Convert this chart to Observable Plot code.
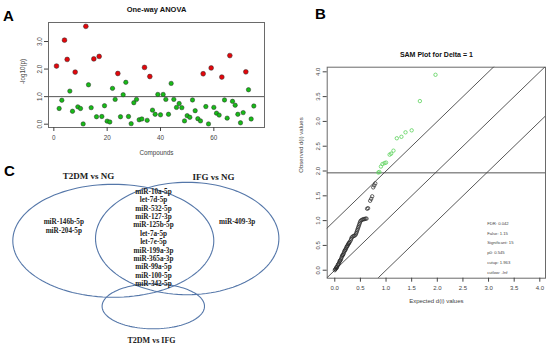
<!DOCTYPE html>
<html><head><meta charset="utf-8">
<script src="https://cdn.jsdelivr.net/npm/d3@7"></script>
<script src="https://cdn.jsdelivr.net/npm/@observablehq/plot@0.6"></script>
<style>
html,body{margin:0;padding:0;background:#fff;}
#fig{position:relative;width:550px;height:344px;overflow:hidden;background:#fff;}
.panel{position:absolute;}
.letter{position:absolute;font-family:"Liberation Sans",Arial,sans-serif;font-weight:bold;font-size:15px;line-height:1;color:#000;}
</style></head><body>
<div id="fig">
  <div id="pA" class="panel" style="left:0;top:0"></div>
  <div id="pB" class="panel" style="left:280px;top:0"></div>
  <div id="pC" class="panel" style="left:0;top:150px"></div>
  <div class="letter" style="left:3px;top:8px">A</div>
  <div class="letter" style="left:315px;top:6px">B</div>
  <div class="letter" style="left:4px;top:163px">C</div>
</div>
<script>
// ---------- Panel A data: One-way ANOVA ----------
const anovaLogP = [
  2.11,0.57,0.87,3.05,2.35,1.20,0.47,1.89,0.63,0.57,
  0.01,3.55,1.43,0.60,2.37,0.27,2.46,0.28,0.67,0.11,
  0.08,1.30,0.90,1.84,0.27,1.07,1.52,0.28,0.02,0.78,
  0.90,0.16,0.19,2.06,0.14,1.73,0.51,0.36,1.08,0.34,
  1.08,0.90,0.36,1.48,0.90,0.61,0.75,0.60,0.12,0.31,
  0.25,0.88,0.49,0.20,0.12,1.83,0.64,0.01,2.04,0.61,
  0.40,0.33,1.71,0.88,0.22,2.49,0.83,0.69,0.36,0.05,
  0.42,1.90,1.25,0.19,0.66
];
const anovaSignificant = [1,4,5,8,12,15,17,24,34,36,56,59,63,66,72];
const anovaThreshold = 1.0;
const anovaXTicks = [0,20,40,60];
const anovaYTicks = [0,1,2,3];

// ---------- Panel B data: SAM plot ----------
const samSigExpected = [1.965,1.66,1.50,1.38,1.30,1.21,1.145,1.10,1.07,1.00,0.97,0.93,0.90,0.87,0.85];
const samSigObserved = [3.94,3.41,2.82,2.78,2.69,2.66,2.41,2.35,2.33,2.17,2.16,2.14,2.09,1.98,1.97];
const samNsExpected = [
  0.00,0.01,0.02,0.03,0.04,0.05,0.06,0.07,0.08,0.09,
  0.10,0.11,0.12,0.13,0.14,0.15,0.16,0.17,0.18,0.19,
  0.20,0.21,0.22,0.23,0.24,0.25,0.26,0.27,0.28,0.29,
  0.31,0.32,0.33,0.35,0.37,0.39,0.41,0.42,0.43,0.44,
  0.45,0.46,0.47,0.48,0.49,0.50,0.52,0.54,0.56,0.58,
  0.60,0.62,0.63,0.65,0.69,0.71,0.73,0.75,0.77,0.79
];
const samNsObserved = [
  0.00,0.02,0.03,0.06,0.05,0.08,0.11,0.12,0.14,0.17,
  0.19,0.20,0.22,0.25,0.28,0.30,0.31,0.33,0.36,0.39,
  0.40,0.42,0.44,0.47,0.48,0.50,0.52,0.54,0.55,0.57,
  0.60,0.63,0.66,0.68,0.69,0.70,0.72,0.75,0.78,0.81,
  0.84,0.87,0.90,0.93,0.96,0.99,1.01,1.02,1.03,1.03,
  1.04,1.04,1.24,1.25,1.40,1.44,1.49,1.67,1.71,1.75
];
const samDelta = 1;
const samCutUp = 1.963;
const samTicks = [0,0.5,1,1.5,2,2.5,3,3.5,4];
const samStats = ["FDR: 0.042","False: 1.15","Significant: 15","p0: 0.545","cutup: 1.963","cutlow: -Inf"];

// ---------- Panel C data: Venn ----------
const vennSets = ["T2DM vs NG","IFG vs NG","T2DM vs IFG"];
const onlyT2DMvsNG = ["miR-146b-5p","miR-204-5p"];
const sharedT2DMandIFG = ["miR-10a-5p","let-7d-5p","miR-532-5p","miR-127-3p","miR-125b-5p","let-7a-5p","let-7e-5p","miR-199a-3p","miR-365a-3p","miR-99a-5p","miR-100-5p","miR-342-5p"];
const onlyIFGvsNG = ["miR-409-3p"];

// ---------- Panel A ----------
const sans = "'Liberation Sans', Arial, Helvetica, sans-serif";
const anovaRows = anovaLogP.map((v, i) => ({compound: i + 1, logp: v, sig: anovaSignificant.includes(i + 1)}));
const plotA = Plot.plot({
  width: 275, height: 165,
  marginLeft: 48, marginRight: 11, marginTop: 22, marginBottom: 38,
  style: {fontFamily: sans, fontSize: "6.3px", color: "#444", background: "transparent"},
  x: {domain: [-2, 79]},
  y: {domain: [-0.12, 3.69]},
  marks: [
    Plot.frame({stroke: "#6a6a6a"}),
    Plot.ruleY([anovaThreshold], {stroke: "#555"}),
    Plot.dot(anovaRows.filter(d => !d.sig), {x: "compound", y: "logp", r: 2.2, fill: "#17bb17", stroke: "#2a2a2a", strokeWidth: 0.5}),
    Plot.dot(anovaRows.filter(d => d.sig), {x: "compound", y: "logp", r: 2.4, fill: "#e3060b", stroke: "#2a2a2a", strokeWidth: 0.5}),
    Plot.axisX({ticks: anovaXTicks, tickSize: 4, tickPadding: 4, label: null}),
    Plot.axisY({ticks: anovaYTicks, tickFormat: d3.format(".1f"), tickSize: 4, tickPadding: 3, tickRotate: -90, label: null}),
    Plot.text(["One-way ANOVA"], {text: d => d, frameAnchor: "top", dy: -16, fontWeight: "bold", fontSize: 7.5, fill: "#111"}),
    Plot.text(["Compounds"], {text: d => d, frameAnchor: "bottom", dy: 27, fill: "#444"}),
    Plot.text(["-log10(p)"], {text: d => d, frameAnchor: "left", dx: -26, dy: 9, rotate: -90, fill: "#444"})
  ]
});
document.getElementById("pA").appendChild(plotA);

// ---------- Panel B ----------
const samSig = samSigExpected.map((x, i) => ({x, y: samSigObserved[i]}));
const samNs = samNsExpected.map((x, i) => ({x, y: samNsObserved[i]}));
const diag = [-samDelta, 0, samDelta].flatMap(d => [-1, 5].map(x => ({d, x, y: x + d})));
const plotB = Plot.plot({
  width: 270, height: 320,
  marginLeft: 46.7, marginRight: 5, marginTop: 66.7, marginBottom: 42.3,
  style: {fontFamily: sans, fontSize: "6px", color: "#444", background: "transparent"},
  x: {domain: [-0.148, 4.111]},
  y: {domain: [-0.161, 4.093]},
  marks: [
    Plot.frame({stroke: "#6a6a6a"}),
    Plot.ruleY([samCutUp], {stroke: "#555"}),
    Plot.line(diag, {x: "x", y: "y", z: "d", stroke: "#444", strokeWidth: 0.9, clip: true}),
    Plot.dot(samNs, {x: "x", y: "y", r: 1.7, stroke: "#222", strokeWidth: 0.7}),
    Plot.dot(samSig, {x: "x", y: "y", r: 1.7, stroke: "#5ad25a", strokeWidth: 0.8}),
    Plot.axisX({ticks: samTicks, tickFormat: d3.format(".1f"), tickSize: 4, tickPadding: 4, label: null}),
    Plot.axisY({ticks: samTicks, tickFormat: d3.format(".1f"), tickSize: 4, tickPadding: 3, tickRotate: -90, label: null}),
    Plot.text(["SAM Plot for Delta = " + samDelta], {text: d => d, frameAnchor: "top", dy: -14.7, fontWeight: "bold", fontSize: 7, fill: "#111"}),
    Plot.text(["Expected d(i) values"], {text: d => d, frameAnchor: "bottom", dy: 25, fill: "#444"}),
    Plot.text(["Observed d(i) values"], {text: d => d, frameAnchor: "left", dx: -26, rotate: -90, fill: "#444"}),
    Plot.text([samStats.join("\n")], {text: d => d, frameAnchor: "right", textAnchor: "start", lineAnchor: "middle", dx: -58.3, dy: 73.4, fontSize: 4.2, lineHeight: 2.32, fill: "#444"})
  ]
});
document.getElementById("pB").appendChild(plotB);

// ---------- Panel C (Venn layout, in panel pixels) ----------
const vennShapes = [
  {cx: 112.8, cy: 90.3, rx: 100.5, ry: 56.5},
  {cx: 186.7, cy: 88.0, rx: 91.7, ry: 56.2},
  {cx: 152.8, cy: 155.8, rx: 51.2, ry: 22.5}
];
const vennTitlePos = [{x: 88, y: 26}, {x: 213, y: 26.5}, {x: 151, y: 189.5}];
const vennTitleSize = [9, 9, 8];
const regionPos = {left: {x: 63.3, y: 75.2}, center: {x: 153, y: 86.9}, right: {x: 236.7, y: 71}};
const lineStep = 8.4;
const ellipsePts = vennShapes.flatMap((e, k) =>
  d3.range(0, 361, 3).map(a => ({set: vennSets[k], x: e.cx + e.rx * Math.cos(a * Math.PI / 180), y: e.cy + e.ry * Math.sin(a * Math.PI / 180)})));
const serif = "'Liberation Serif', 'Times New Roman', serif";
const memberFont = 7.2;
const plotC = Plot.plot({
  width: 280, height: 194, margin: 0,
  style: {fontFamily: serif, background: "transparent", color: "#222"},
  x: {domain: [0, 280], range: [0, 280], axis: null},
  y: {domain: [0, 194], range: [0, 194], axis: null},
  marks: [
    Plot.line(ellipsePts, {x: "x", y: "y", z: "set", stroke: "#5577a9", strokeWidth: 1.1}),
    Plot.text(vennSets.map((s, i) => ({s, ...vennTitlePos[i], fs: vennTitleSize[i]})), {x: "x", y: "y", text: "s", fontSize: d => d.fs, fontWeight: "bold", fill: "#222"}),
    Plot.text([onlyT2DMvsNG.join("\n")], {text: d => d, x: regionPos.left.x, y: regionPos.left.y, fontSize: memberFont, lineHeight: lineStep / memberFont, fontWeight: "bold", fill: "#222"}),
    Plot.text([sharedT2DMandIFG.join("\n")], {text: d => d, x: regionPos.center.x, y: regionPos.center.y, fontSize: memberFont, lineHeight: lineStep / memberFont, fontWeight: "bold", fill: "#222"}),
    Plot.text([onlyIFGvsNG.join("\n")], {text: d => d, x: regionPos.right.x, y: regionPos.right.y, fontSize: memberFont, lineHeight: lineStep / memberFont, fontWeight: "bold", fill: "#222"})
  ]
});
document.getElementById("pC").appendChild(plotC);
</script>
</body></html>
